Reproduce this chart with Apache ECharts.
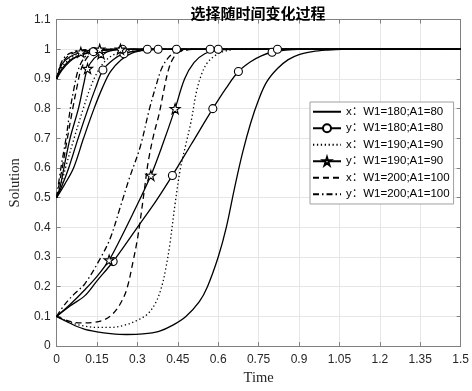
<!DOCTYPE html>
<html><head><meta charset="utf-8">
<script src="https://cdn.jsdelivr.net/npm/echarts@6/dist/echarts.min.js"></script>
<style>html,body{margin:0;padding:0;background:#fff}#c{width:472px;height:391px}</style>
</head><body><div id="c"></div>
<script>
// ---- data: [time, value] ----
// x, W1=180;A1=80
const x180_01 = [[0,0.1],[0.05,0.077],[0.1,0.058],[0.15,0.048],[0.2,0.042],[0.26,0.039],[0.32,0.041],[0.38,0.05],[0.43,0.07],[0.48,0.1],[0.53,0.15],[0.56,0.2],[0.6,0.3],[0.63,0.4],[0.66,0.53],[0.69,0.65],[0.72,0.75],[0.75,0.83],[0.78,0.89],[0.82,0.935],[0.86,0.965],[0.9,0.982],[0.95,0.992],[1.0,0.997],[1.06,1.0],[1.5,1.0]];
const x180_05 = [[0,0.5],[0.03,0.545],[0.063,0.6],[0.1,0.7],[0.139,0.8],[0.17,0.87],[0.2,0.925],[0.24,0.965],[0.28,0.987],[0.33,0.997],[0.4,1.0],[1.5,1.0]];
const x180_09 = [[0,0.9],[0.02,0.93],[0.05,0.96],[0.08,0.978],[0.12,0.99],[0.17,0.997],[0.25,1.0],[1.5,1.0]];
// y, W1=180;A1=80
const y180_01 = [[0,0.1],[0.05,0.135],[0.105,0.17],[0.15,0.22],[0.21,0.285],[0.3,0.4],[0.37,0.49],[0.43,0.575],[0.5,0.68],[0.58,0.8],[0.63,0.87],[0.675,0.925],[0.72,0.958],[0.76,0.978],[0.8,0.99],[0.85,0.997],[0.9,1.0],[1.5,1.0]];
const y180_05 = [[0,0.5],[0.02,0.54],[0.045,0.6],[0.08,0.7],[0.117,0.8],[0.145,0.87],[0.172,0.93],[0.21,0.965],[0.25,0.985],[0.3,0.995],[0.377,1.0],[0.6,1.0],[1.5,1.0]];
const y180_09 = [[0,0.9],[0.02,0.935],[0.05,0.963],[0.09,0.98],[0.137,0.992],[0.2,0.998],[0.244,1.0],[0.337,1.0],[0.445,1.0],[0.57,1.0],[0.82,1.0],[1.5,1.0]];
const y180_mk01 = [0.21,0.43,0.58,0.675,0.8];
const y180_mk05 = [0.172,0.25,0.377,0.6];
const y180_mk09 = [0.137,0.244,0.337,0.445,0.57,0.82];
// x, W1=190;A1=90
const x190_01 = [[0,0.1],[0.05,0.08],[0.1,0.068],[0.15,0.063],[0.2,0.063],[0.25,0.07],[0.3,0.087],[0.34,0.11],[0.37,0.15],[0.39,0.2],[0.405,0.26],[0.42,0.34],[0.44,0.48],[0.46,0.6],[0.48,0.68],[0.5,0.76],[0.52,0.86],[0.54,0.92],[0.56,0.955],[0.59,0.98],[0.62,0.993],[0.67,1.0],[1.5,1.0]];
const x190_05 = [[0,0.5],[0.016,0.54],[0.033,0.6],[0.065,0.7],[0.099,0.8],[0.125,0.87],[0.15,0.92],[0.18,0.96],[0.22,0.985],[0.27,0.996],[0.33,1.0],[1.5,1.0]];
const x190_09 = [[0,0.9],[0.02,0.94],[0.05,0.968],[0.08,0.984],[0.12,0.994],[0.18,0.999],[0.25,1.0],[1.5,1.0]];
// y, W1=190;A1=90
const y190_01 = [[0,0.1],[0.05,0.14],[0.105,0.19],[0.15,0.235],[0.195,0.29],[0.225,0.34],[0.28,0.44],[0.35,0.575],[0.39,0.67],[0.44,0.8],[0.475,0.9],[0.51,0.955],[0.55,0.985],[0.6,0.997],[0.65,1.0],[1.5,1.0]];
const y190_05 = [[0,0.5],[0.014,0.54],[0.027,0.6],[0.05,0.7],[0.081,0.8],[0.1,0.88],[0.115,0.935],[0.14,0.97],[0.165,0.985],[0.2,0.995],[0.237,1.0],[1.5,1.0]];
const y190_09 = [[0,0.9],[0.02,0.95],[0.05,0.975],[0.09,0.99],[0.13,0.997],[0.16,1.0],[1.5,1.0]];
const y190_mk01 = [0.195,0.35,0.44];
const y190_mk05 = [0.115,0.165,0.237];
const y190_mk09 = [0.09,0.16];
// x, W1=200;A1=100
const x200_01 = [[0,0.1],[0.05,0.083],[0.093,0.078],[0.14,0.08],[0.18,0.09],[0.21,0.11],[0.235,0.14],[0.26,0.19],[0.285,0.29],[0.3,0.36],[0.31,0.42],[0.325,0.52],[0.34,0.62],[0.36,0.71],[0.38,0.78],[0.4,0.87],[0.415,0.93],[0.43,0.965],[0.45,0.988],[0.48,0.997],[0.52,1.0],[1.5,1.0]];
const x200_05 = [[0,0.5],[0.021,0.6],[0.04,0.7],[0.06,0.8],[0.075,0.87],[0.09,0.93],[0.11,0.968],[0.13,0.985],[0.16,0.995],[0.2,1.0],[1.5,1.0]];
const x200_09 = [[0,0.9],[0.015,0.945],[0.04,0.975],[0.07,0.99],[0.1,0.996],[0.14,1.0],[1.5,1.0]];
// y, W1=200;A1=100
const y200_01 = [[0,0.1],[0.03,0.14],[0.065,0.175],[0.105,0.21],[0.165,0.3],[0.2,0.365],[0.237,0.47],[0.27,0.565],[0.31,0.67],[0.345,0.8],[0.37,0.88],[0.39,0.935],[0.415,0.972],[0.44,0.99],[0.48,0.998],[0.52,1.0],[1.5,1.0]];
const y200_05 = [[0,0.5],[0.016,0.6],[0.035,0.7],[0.051,0.8],[0.065,0.87],[0.08,0.93],[0.1,0.968],[0.12,0.985],[0.15,0.995],[0.19,1.0],[1.5,1.0]];
const y200_09 = [[0,0.9],[0.015,0.95],[0.035,0.978],[0.06,0.99],[0.09,0.997],[0.13,1.0],[1.5,1.0]];

const names = ['x：W1=180;A1=80','y：W1=180;A1=80','x：W1=190;A1=90','y：W1=190;A1=90','x：W1=200;A1=100','y：W1=200;A1=100'];
const titleText = '选择随时间变化过程';
const xName = 'Time', yName = 'Solution';

const STAR = 'path://M50,0 L61.2,34.5 L97.6,34.5 L68.2,55.9 L79.4,90.5 L50,69.1 L20.6,90.5 L31.8,55.9 L2.4,34.5 L38.8,34.5 Z';

function withMarks(pts, marks) {
  return pts.map(p => {
    const m = marks && marks.some(t => Math.abs(t - p[0]) < 1e-9);
    return m ? {value: p} : {value: p, symbol: 'none'};
  });
}
function mk(name, pts, dash, symbol, marks) {
  const hasSym = !!symbol;
  return {
    name, type: 'line', xAxisIndex: 0, yAxisIndex: 0,
    data: withMarks(pts, marks),
    smooth: 0.35,
    symbol: symbol || 'none',
    symbolSize: symbol === STAR ? 10 : 8,
    showSymbol: hasSym,
    lineStyle: {color: '#000', width: 1.3, type: dash},
    itemStyle: hasSym ? {color: '#fff', borderColor: '#000', borderWidth: 1.1}
                      : {color: 'rgba(0,0,0,0)', borderColor: 'rgba(0,0,0,0)', borderWidth: 0},
    emphasis: {disabled: true},
    animation: false, z: hasSym ? 3 : 2
  };
}
const DOT = [1.3, 2.6], DASH = [6, 4], DASHDOT = [6, 3, 1.5, 3];
const series = [
  mk(names[0], x180_01, 'solid'), mk(names[0], x180_05, 'solid'), mk(names[0], x180_09, 'solid'),
  mk(names[1], y180_01, 'solid', 'circle', y180_mk01), mk(names[1], y180_05, 'solid', 'circle', y180_mk05), mk(names[1], y180_09, 'solid', 'circle', y180_mk09),
  mk(names[2], x190_01, DOT), mk(names[2], x190_05, DOT), mk(names[2], x190_09, DOT),
  mk(names[3], y190_01, 'solid', STAR, y190_mk01), mk(names[3], y190_05, 'solid', STAR, y190_mk05), mk(names[3], y190_09, 'solid', STAR, y190_mk09),
  mk(names[4], x200_01, DASH), mk(names[4], x200_05, DASH), mk(names[4], x200_09, DASH),
  mk(names[5], y200_01, DASHDOT), mk(names[5], y200_05, DASHDOT), mk(names[5], y200_09, DASHDOT)
];

const AX = '#808080', LBL = '#262626', GRID = '#e6e6e6';
const labelFont = {color: LBL, fontSize: 12, fontFamily: 'Liberation Sans, Arial, sans-serif'};
const chart = echarts.init(document.getElementById('c'), null, {renderer: 'canvas'});
chart.setOption({
  backgroundColor: '#fff',
  animation: false,
  title: {text: titleText, left: 253, top: 1, textAlign: 'center',
    textStyle: {fontSize: 15, fontWeight: 'bold', color: '#000', fontFamily: 'Noto Sans CJK SC'}},
  grid: {left: 44, right: 10, top: 19.6, bottom: 37, containLabel: false},
  legend: {
    data: names, orient: 'vertical', left: 310, top: 102,
    backgroundColor: '#fff', borderColor: '#a0a0a0', borderWidth: 1,
    padding: [4, 4, 4, 2], itemGap: 5, itemWidth: 28, itemHeight: 10,
    textStyle: {fontSize: 11.5, color: '#000', fontFamily: 'Liberation Sans, Noto Sans CJK SC, sans-serif'},
    selectedMode: false
  },
  xAxis: [{
    type: 'value', min: 0, max: 1.5, interval: 0.15,
    name: xName, nameLocation: 'middle', nameGap: 22,
    nameTextStyle: {fontFamily: 'Liberation Serif, Times New Roman, serif', fontSize: 14.5, color: LBL},
    axisLine: {show: true, lineStyle: {color: AX, width: 1}},
    axisTick: {show: true, inside: true, length: 4, lineStyle: {color: AX}},
    axisLabel: Object.assign({margin: 8, formatter: v => String(Math.round(v * 100) / 100)}, labelFont),
    splitLine: {show: true, lineStyle: {color: GRID, width: 1}}
  }, {
    type: 'value', min: 0, max: 1.5, interval: 0.15, position: 'top',
    axisLine: {show: true, onZero: false, lineStyle: {color: AX, width: 1}},
    axisTick: {show: true, inside: true, length: 4, lineStyle: {color: AX}},
    axisLabel: {show: false}, splitLine: {show: false}
  }],
  yAxis: [{
    type: 'value', min: 0, max: 1.1, interval: 0.1,
    name: yName, nameLocation: 'middle', nameGap: 29,
    nameTextStyle: {fontFamily: 'Liberation Serif, Times New Roman, serif', fontSize: 14.5, color: LBL},
    axisLine: {show: true, lineStyle: {color: AX, width: 1}},
    axisTick: {show: true, inside: true, length: 4, lineStyle: {color: AX}},
    axisLabel: Object.assign({margin: 6, formatter: v => String(Math.round(v * 10) / 10)}, labelFont),
    splitLine: {show: true, lineStyle: {color: GRID, width: 1}}
  }, {
    type: 'value', min: 0, max: 1.1, interval: 0.1, position: 'right',
    axisLine: {show: true, onZero: false, lineStyle: {color: AX, width: 1}},
    axisTick: {show: true, inside: true, length: 4, lineStyle: {color: AX}},
    axisLabel: {show: false}, splitLine: {show: false}
  }],
  series
});
</script></body></html>
